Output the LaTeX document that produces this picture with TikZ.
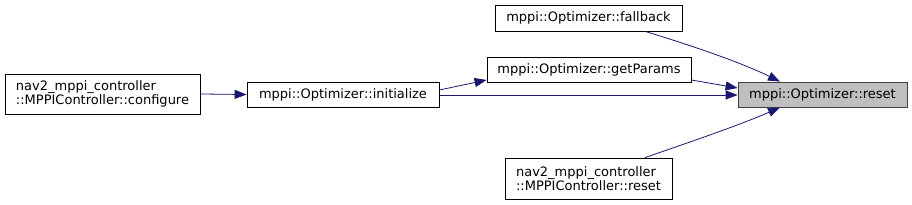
\documentclass[tikz,border=0pt]{standalone}
\usepackage{fontspec}
\setmainfont{DejaVu Sans}
\usetikzlibrary{arrows.meta}
\definecolor{edgeblue}{HTML}{191970}
\begin{document}
\begin{tikzpicture}[x=1pt,y=-1pt,
  fn/.style={draw=black,fill=white,line width=0.8pt,inner sep=0pt,font=\fontsize{13}{14}\selectfont,align=center},
  fnl/.style={fn,align=left},
  cur/.style={fn,fill=black!25,draw=black!75},
  call/.style={draw=edgeblue,line width=0.8pt,-{Triangle[length=12pt,width=9pt]}}]
\useasboundingbox (0,0) rectangle (912,205);
\node[fnl,minimum width=195pt,minimum height=40pt] (conf) at (102.5,94) {nav2\_mppi\_controller\\::MPPIController::configure};
\node[fn,minimum width=192pt,minimum height=25pt] (init) at (343,94.5) {mppi::Optimizer::initialize};
\node[fn,minimum width=204pt,minimum height=25pt] (getp) at (589,69.5) {mppi::Optimizer::getParams};
\node[fn,minimum width=187pt,minimum height=26pt] (fall) at (588.5,18) {mppi::Optimizer::fallback};
\node[fnl,minimum width=167pt,minimum height=41pt] (mreset) at (588.5,178.5) {nav2\_mppi\_controller\\::MPPIController::reset};
\node[cur,minimum width=169pt,minimum height=25pt] (reset) at (822.5,94.5) {mppi::Optimizer::reset};
\draw[call] (conf.east) -- (init.west);
\draw[call] (init.east |- 0,90) -- (getp.west |- 0,80);
\draw[call] (init.east |- 0,95) -- (reset.west |- 0,95);
\draw[call] (getp.east |- 0,80) -- (reset.west |- 0,88);
\draw[call] (fall.south -| 645,0) .. controls (690,45) and (740,62) .. (reset.north -| 780,0);
\draw[call] (mreset.north -| 645,0) .. controls (690,142) and (740,125) .. (reset.south -| 780,0);
\end{tikzpicture}
\end{document}
